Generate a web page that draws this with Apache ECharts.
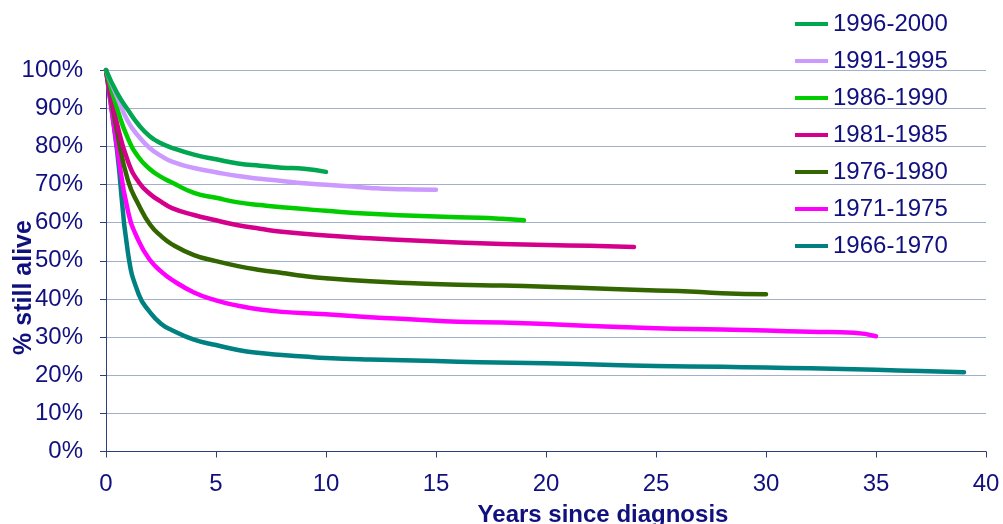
<!DOCTYPE html>
<html>
<head>
<meta charset="utf-8">
<script src="https://cdn.jsdelivr.net/npm/echarts@6/dist/echarts.min.js"></script>
<style>
html,body{margin:0;padding:0;background:#fff;}
#chart{width:1003px;height:524px;}
</style>
</head>
<body>
<div id="chart"></div>
<script>
// Survival curves, % still alive by years since diagnosis
var seriesNames = ["1996-2000","1991-1995","1986-1990","1981-1985","1976-1980","1971-1975","1966-1970"];
var yAxisTitle = "% still alive";
var xAxisTitle = "Years since diagnosis";

var years1996 = [0,0.5,1,1.5,2,2.5,3,4,5,6,7,8,9,10];
var alive1996 = [100,94,89.5,85.5,82.6,80.8,79.6,77.8,76.6,75.5,74.9,74.4,74.1,73.3];

var years1991 = [0,0.5,1,1.5,2,2.5,3,4,5,6,7,8,9,10,11,12,13,14,15];
var alive1991 = [100,93,86.5,82.5,79.5,77.5,76,74.3,73.2,72.2,71.5,70.9,70.3,69.9,69.5,69.1,68.8,68.7,68.6];

var years1986 = [0,0.5,1,1.5,2,2.5,3,4,5,6,7,8,10,12,14,16,17,18,19];
var alive1986 = [100,90,82,77,74,72,70.5,67.8,66.5,65.3,64.6,64.0,63.1,62.3,61.8,61.4,61.3,61.0,60.6];

var years1981 = [0,0.5,1,1.5,2,2.5,3,4,5,6,7,8,10,12,14,16,18,20,22,24];
var alive1981 = [100,86,76,70.5,67.5,65.5,63.8,62,60.6,59.3,58.4,57.6,56.6,55.9,55.3,54.8,54.4,54.1,53.9,53.6];

var years1976 = [0,0.5,1,1.5,2,2.5,3,4,5,6,7,8,9,10,12,14,16,18,20,23,25,26,28,30];
var alive1976 = [100,84,71,64.5,59.5,56.5,54.3,51.5,49.9,48.6,47.6,46.8,46.0,45.4,44.6,44.1,43.7,43.5,43.2,42.6,42.2,42.1,41.5,41.2];

var years1971 = [0,0.5,1,1.5,2,2.5,3,4,5,6,7,8,10,12,14,16,18,20,23,25,28,30,32,34,35];
var alive1971 = [100,80,63,55,50.2,47.2,45,41.7,39.6,38.2,37.2,36.6,36.0,35.2,34.6,34.0,33.8,33.4,32.7,32.3,32.0,31.7,31.4,31.1,30.2];

var years1966 = [0,0.5,1,1.5,2,2.5,3,4,5,6,7,8,9,10,12,15,17,20,23,25,28,30,32,35,37,39];
var alive1966 = [100,79,52,41,36.5,33.5,31.8,29.3,27.9,26.6,25.8,25.3,24.9,24.5,24.1,23.7,23.4,23.1,22.7,22.4,22.2,22.0,21.8,21.4,21.1,20.8];

var xTicks = [0,5,10,15,20,25,30,35,40];
var yTicks = [0,10,20,30,40,50,60,70,80,90,100];

var seriesColors = ["#00a650","#cc99ff","#00cc00","#d4008c","#336600","#ff00ff","#008080"];

var yearsList = [years1996,years1991,years1986,years1981,years1976,years1971,years1966];
var aliveList = [alive1996,alive1991,alive1986,alive1981,alive1976,alive1971,alive1966];

function pairs(xs, ys){ return xs.map(function(x,i){ return [x, ys[i]]; }); }

var navy = "#10107f";

var series = seriesNames.map(function(name, i){
  return {
    name: name,
    type: "line",
    data: pairs(yearsList[i], aliveList[i]),
    smooth: 0.5,
    symbol: "none",
    lineStyle: { width: 4.5, color: seriesColors[i], cap: "round", join: "round" },
    itemStyle: { color: seriesColors[i] },
    z: 10 - i
  };
});

var chart = echarts.init(document.getElementById("chart"), null, {renderer: "canvas"});
chart.setOption({
  animation: false,
  backgroundColor: "#ffffff",
  textStyle: { fontFamily: "Liberation Sans, Arial, sans-serif" },
  grid: { left: 106, right: 17, top: 70, bottom: 72.5, containLabel: false, outerBoundsMode: "none" },
  graphic: [{
    type: "text",
    x: 24,
    y: 287.5,
    rotation: Math.PI / 2,
    style: {
      text: yAxisTitle,
      fill: navy,
      font: "bold 25px 'Liberation Sans', Arial, sans-serif",
      align: "center",
      verticalAlign: "middle"
    }
  }],
  legend: {
    orient: "vertical",
    left: 795,
    top: 12,
    padding: 0,
    data: seriesNames,
    icon: "rect",
    itemWidth: 33,
    itemHeight: 4,
    itemGap: 13,
    textStyle: { color: navy, fontSize: 24, lineHeight: 24 }
  },
  xAxis: {
    type: "value",
    min: 0, max: 40, interval: 5,
    name: xAxisTitle,
    nameLocation: "middle",
    nameGap: 52,
    nameTextStyle: { color: navy, fontSize: 24, fontWeight: "bold", padding: [0,0,0,114] },
    axisLine: { show: true, lineStyle: { color: "#2b3f7a", width: 1 } },
    axisTick: { show: true, length: 6, lineStyle: { color: "#2b3f7a" } },
    axisLabel: { color: navy, fontSize: 24, margin: 21,
      formatter: function(v){ return xTicks.indexOf(v) >= 0 ? String(v) : ""; } },
    splitLine: { show: false }
  },
  yAxis: {
    type: "value",
    min: 0, max: 100, interval: 10,
    axisLine: { show: true, lineStyle: { color: "#2b3f7a", width: 1 } },
    axisTick: { show: true, length: 6, lineStyle: { color: "#2b3f7a" } },
    axisLabel: { color: navy, fontSize: 24, margin: 23,
      formatter: function(v){ return yTicks.indexOf(v) >= 0 ? v + "%" : ""; } },
    splitLine: { show: true, lineStyle: { color: "#a3b0c9", width: 1 } }
  },
  series: series
});
</script>
</body>
</html>
